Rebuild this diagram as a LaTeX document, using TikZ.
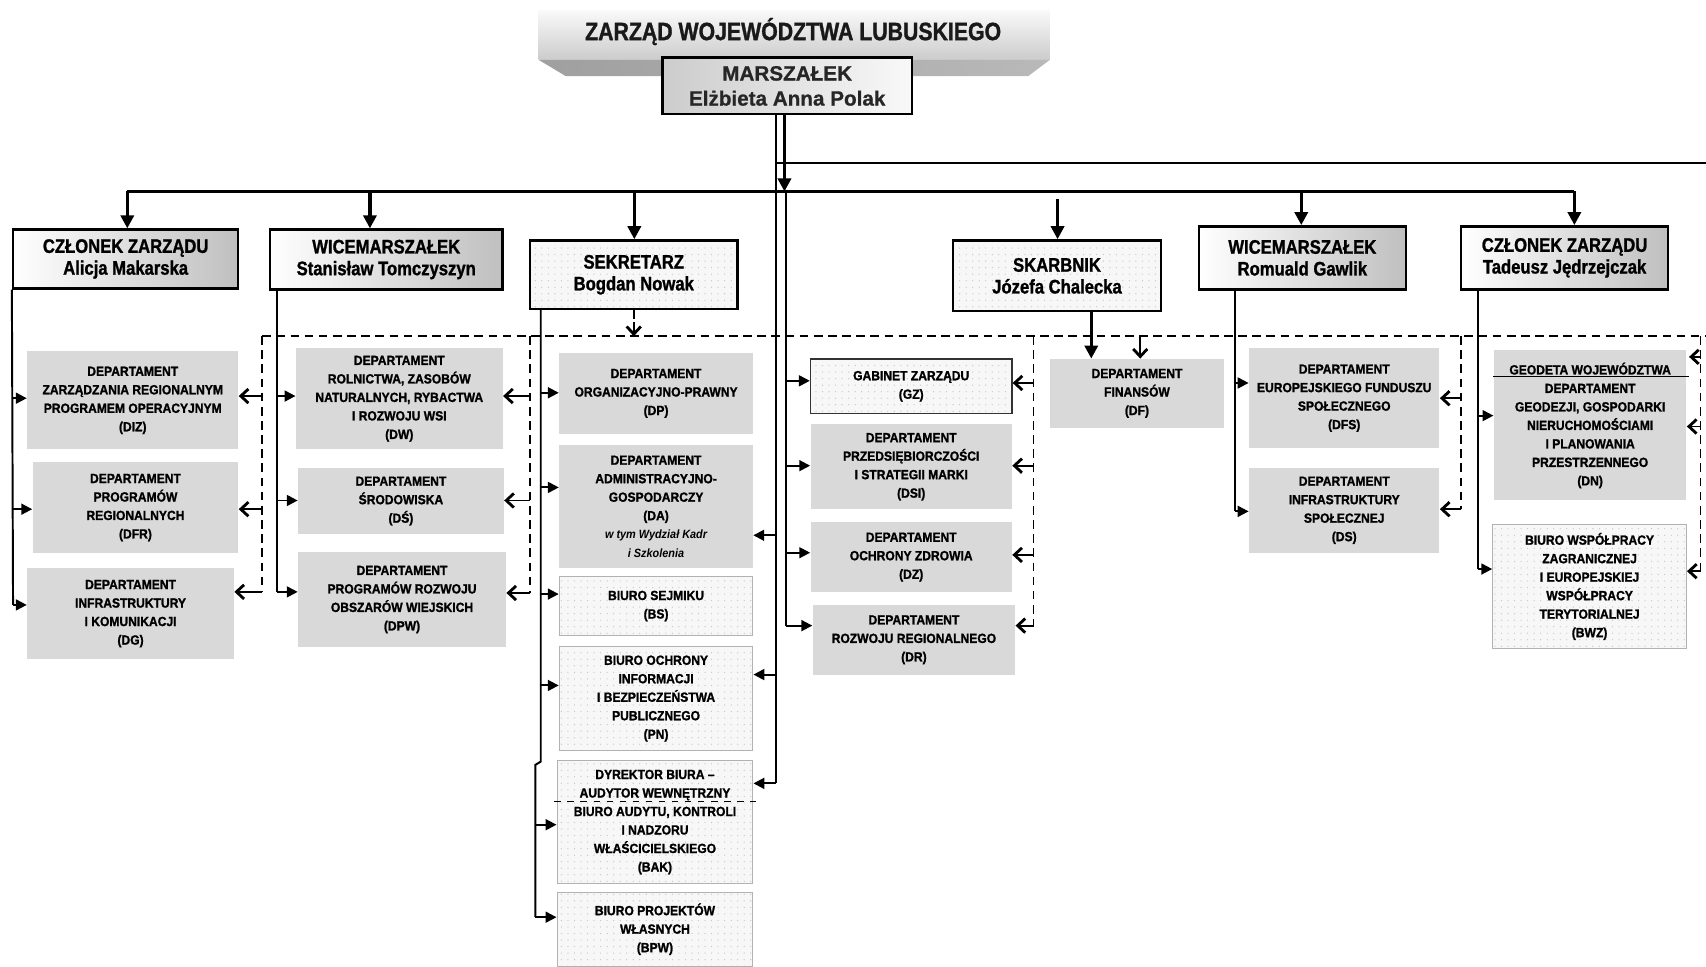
\documentclass[tikz,border=0pt]{standalone}
\usepackage{fontspec}
\setmainfont{Liberation Sans}
\newfontfamily\nf[FakeStretch=0.85, BoldFeatures={FakeBold=1.2}]{Liberation Sans}
\newfontfamily\df[FakeStretch=0.91, BoldFeatures={FakeBold=1.3}]{Liberation Sans}
\newfontfamily\mf[BoldFeatures={FakeBold=0.8}]{Liberation Sans}
\usetikzlibrary{arrows.meta,patterns.meta}
\definecolor{deptgray}{RGB}{217,217,217}
\tikzset{
 dtext/.style={align=center, inner sep=0pt, text=black, font=\df\bfseries\fontsize{6.1}{8.5}\selectfont},
 dept/.style={dtext, fill=deptgray},
 spk/.style={dtext, preaction={fill=gray!6}, pattern={Dots[distance=3pt,radius=0.3pt]}, pattern color=gray!45, draw=gray!60, line width=0.5pt},
 lead/.style={draw=black, line width=1.1pt, left color=white, right color=gray!50, align=center, inner sep=0pt, font=\nf\bfseries\fontsize{9}{10}\selectfont},
 leadsp/.style={draw=black, line width=1.1pt, preaction={fill=gray!6}, pattern={Dots[distance=3pt,radius=0.3pt]}, pattern color=gray!45, align=center, inner sep=0pt, font=\nf\bfseries\fontsize{9}{10}\selectfont},
 conn/.style={line width=0.9pt},
 arr/.style={line width=0.9pt, -{Triangle[length=5pt,width=5pt]}},
 arrM/.style={line width=1.5pt, -{Triangle[length=6pt,width=6pt]}},
 dline/.style={dash pattern=on 4pt off 2.5pt, line width=0.8pt},
 barb/.style={line width=0.9pt, -{Straight Barb[length=3.5pt,width=6.5pt,line width=1.3pt]}},
}
\begin{document}
\begin{tikzpicture}[x=0.5pt,y=-0.5pt]
\useasboundingbox (0,0) rectangle (1568,888);
% header band
\shade[top color=gray!5, bottom color=gray!40] (495,10) rectangle (965,55);
\shade[left color=gray!75, right color=gray!55] (495,55) -- (965,55) -- (945,70) -- (520,70) -- cycle;
\node[font=\nf\bfseries\fontsize{11.5}{13}\selectfont, text=black!90] (head) at (729,29) {ZARZĄD WOJEWÓDZTWA LUBUSKIEGO};
\node[draw=black, line width=1.1pt, left color=gray!40, right color=gray!5, align=center, inner sep=0pt,
      minimum width=114.5pt, minimum height=26pt, font=\mf\bfseries\fontsize{9.5}{11.5}\selectfont, text=black!85] (M) at (723.5,79) {MARSZAŁEK\\Elżbieta Anna Polak};

% leaders
\node[lead, minimum width=103.5pt, minimum height=27pt] (L1) at (115.5,238) {CZŁONEK ZARZĄDU\\Alicja Makarska};
\node[lead, minimum width=107pt, minimum height=27.5pt] (L2) at (355,238.5) {WICEMARSZAŁEK\\Stanisław Tomczyszyn};
\node[leadsp, minimum width=95.5pt, minimum height=31.5pt] (L3) at (582.5,252.5) {SEKRETARZ\\Bogdan Nowak};
\node[leadsp, minimum width=95.5pt, minimum height=32.5pt] (L4) at (971.5,253.5) {SKARBNIK\\Józefa Chalecka};
\node[lead, minimum width=95pt, minimum height=29pt] (L5) at (1197,237) {WICEMARSZAŁEK\\Romuald Gawlik};
\node[lead, minimum width=95pt, minimum height=29pt] (L6) at (1438,237) {CZŁONEK ZARZĄDU\\Tadeusz Jędrzejczak};

% departments
\node[dept, minimum width=97pt, minimum height=45pt] (DIZ) at (122,368) {DEPARTAMENT\\ZARZĄDZANIA REGIONALNYM\\PROGRAMEM OPERACYJNYM\\(DIZ)};
\node[dept, minimum width=94.5pt, minimum height=41.5pt] (DFR) at (124.5,466.5) {DEPARTAMENT\\PROGRAMÓW\\REGIONALNYCH\\(DFR)};
\node[dept, minimum width=95pt, minimum height=42pt] (DG) at (120,564) {DEPARTAMENT\\INFRASTRUKTURY\\I KOMUNIKACJI\\(DG)};
\node[dept, minimum width=95pt, minimum height=46.5pt] (DW) at (367,366.5) {DEPARTAMENT\\ROLNICTWA, ZASOBÓW\\NATURALNYCH, RYBACTWA\\I ROZWOJU WSI\\(DW)};
\node[dept, minimum width=94.5pt, minimum height=30.5pt] (DS1) at (368.5,460.5) {DEPARTAMENT\\ŚRODOWISKA\\(DŚ)};
\node[dept, minimum width=95.5pt, minimum height=44pt] (DPW) at (369.5,551) {DEPARTAMENT\\PROGRAMÓW ROZWOJU\\OBSZARÓW WIEJSKICH\\(DPW)};
\node[dept, minimum width=89pt, minimum height=37.5pt] (DP) at (603,361.5) {DEPARTAMENT\\ORGANIZACYJNO-PRAWNY\\(DP)};
\node[dept, minimum width=89pt, minimum height=56.5pt] (DA) at (603,465.5) {DEPARTAMENT\\ADMINISTRACYJNO-\\GOSPODARCZY\\(DA)\\{\itshape\fontsize{5.5}{8.5}\selectfont w tym Wydział Kadr}\\{\itshape\fontsize{5.5}{8.5}\selectfont i Szkolenia}};
\node[spk, minimum width=89pt, minimum height=27pt] (BS) at (603,557) {BIURO SEJMIKU\\(BS)};
\node[spk, minimum width=89pt, minimum height=48pt] (PN) at (603,642) {BIURO OCHRONY\\INFORMACJI\\I BEZPIECZEŃSTWA\\PUBLICZNEGO\\(PN)};
\node[spk, minimum width=90pt, minimum height=56.5pt] (BAK) at (602,755.5) {DYREKTOR BIURA –\\AUDYTOR WEWNĘTRZNY\\BIURO AUDYTU, KONTROLI\\I NADZORU\\WŁAŚCICIELSKIEGO\\(BAK)};
\node[spk, minimum width=90pt, minimum height=34pt] (BPW) at (602,854) {BIURO PROJEKTÓW\\WŁASNYCH\\(BPW)};
\node[spk, draw=black!80, line width=0.7pt, minimum width=92.5pt, minimum height=25pt] (GZ) at (837.5,355) {GABINET ZARZĄDU\\(GZ)};
\node[dept, minimum width=92.5pt, minimum height=39pt] (DSI) at (837.5,429) {DEPARTAMENT\\PRZEDSIĘBIORCZOŚCI\\I STRATEGII MARKI\\(DSI)};
\node[dept, minimum width=92.5pt, minimum height=32pt] (DZ) at (837.5,512) {DEPARTAMENT\\OCHRONY ZDROWIA\\(DZ)};
\node[dept, minimum width=93pt, minimum height=32pt] (DR) at (840,588) {DEPARTAMENT\\ROZWOJU REGIONALNEGO\\(DR)};
\node[dept, minimum width=80pt, minimum height=31.5pt] (DF) at (1045,361.5) {DEPARTAMENT\\FINANSÓW\\(DF)};
\node[dept, minimum width=87.5pt, minimum height=46pt] (DFS) at (1235.5,366) {DEPARTAMENT\\EUROPEJSKIEGO FUNDUSZU\\SPOŁECZNEGO\\(DFS)};
\node[dept, minimum width=87.5pt, minimum height=39pt] (DSP) at (1235.5,469) {DEPARTAMENT\\INFRASTRUKTURY\\SPOŁECZNEJ\\(DS)};
\node[dept, minimum width=88.5pt, minimum height=69pt] (DN) at (1461.5,391) {GEODETA WOJEWÓDZTWA\\DEPARTAMENT\\GEODEZJI, GOSPODARKI\\NIERUCHOMOŚCIAMI\\I PLANOWANIA\\PRZESTRZENNEGO\\(DN)};
\node[spk, minimum width=89pt, minimum height=57pt] (BWZ) at (1461,539) {BIURO WSPÓŁPRACY\\ZAGRANICZNEJ\\I EUROPEJSKIEJ\\WSPÓŁPRACY\\TERYTORIALNEJ\\(BWZ)};

% rules inside boxes
\draw[line width=0.8pt] (DN.west |- 0,346) -- ([xshift=1pt]DN.east |- 0,346);
\draw[dashed, line width=0.5pt] ([xshift=-1pt]BAK.west |- 0,737) -- ([xshift=1pt]BAK.east |- 0,737);

% Marszałek connectors
\coordinate (mbus) at (721,176);
\coordinate (busL) at (117,176);
\coordinate (busR) at (1447,176);
\draw[arrM] (M.south -| mbus) -- (mbus);
\draw[conn, line width=1.1pt] (busL) -- (busR);
\draw[arrM] (busL) -- (L1.north -| busL);
\draw[arrM] (340,176) -- (L2.north -| 340,0);
\draw[arrM] (583,176) -- (L3.north -| 583,0);
\draw[arrM] (972,183) -- (L4.north -| 972,0);
\draw[arrM] (1196,176) -- (L5.north -| 1196,0);
\draw[arrM] (busR) -- (L6.north -| busR);

\coordinate (mB) at (713,720);
\coordinate (mC) at (713,150);
\coordinate (mCR) at (1568,150);
\draw[conn, line width=1.1pt] (M.south -| mB) -- (mB);
\draw[conn] (mC) -- (mCR);
\draw[arr] (mB) -- (BAK.east |- mB);
\draw[arr] (713,492) -- (DA.east |- 0,492);
\draw[arr] (713,620) -- (PN.east |- 0,620);

\coordinate (mD) at (722,176);
\coordinate (mDb) at (722,575);
\draw[conn] (mD) -- (mDb);
\draw[arr] (mD |- 0,350) -- (GZ.west |- 0,350);
\draw[arr] (mD |- 0,428) -- (DSI.west |- 0,428);
\draw[arr] (mD |- 0,508) -- (DZ.west |- 0,508);
\draw[arr] (mDb) -- (DR.west |- mDb);

% leaders' solid lines
\coordinate (a1) at (12,556);
\draw[conn] (L1.south west) -- (a1);
\draw[arr] (a1 |- 0,366) -- (DIZ.west |- 0,366);
\draw[arr] (a1 |- 0,468) -- (DFR.west |- 0,468);
\draw[arr] (a1) -- (DG.west |- a1);

\coordinate (a2t) at (255,266);
\coordinate (a2) at (255,544);
\draw[conn] (a2t) -- (a2);
\draw[arr] (a2 |- 0,364) -- (DW.west |- 0,364);
\draw[arr] (a2 |- 0,460) -- (DS1.west |- 0,460);
\draw[arr] (a2) -- (DPW.west |- a2);

\coordinate (a3t) at (497,284);
\coordinate (a3j) at (497,700);
\coordinate (a3k) at (492,703);
\coordinate (a3) at (492,843);
\draw[conn] (a3t) -- (a3j) -- (a3k) -- (a3);
\draw[arr] (a3t |- 0,361) -- (DP.west |- 0,361);
\draw[arr] (a3t |- 0,448) -- (DA.west |- 0,448);
\draw[arr] (a3t |- 0,546) -- (BS.west |- 0,546);
\draw[arr] (a3t |- 0,630) -- (PN.west |- 0,630);
\draw[arr] (a3 |- 0,758) -- (BAK.west |- 0,758);
\draw[arr] (a3) -- (BPW.west |- a3);

\draw[arrM] (L4.south -| 1003,0) -- (DF.north -| 1003,0);

\coordinate (a5t) at (1135,266);
\coordinate (a5) at (1135,470);
\draw[conn] (a5t) -- (a5);
\draw[arr] (a5 |- 0,352) -- (DFS.west |- 0,352);
\draw[arr] (a5) -- (DSP.west |- a5);

\coordinate (a6t) at (1358,266);
\coordinate (a6) at (1358,523);
\draw[conn] (a6t) -- (a6);
\draw[arr] (a6 |- 0,382) -- (DN.west |- 0,382);
\draw[arr] (a6) -- (BWZ.west |- a6);

% dashed coordination lines
\coordinate (dL) at (241,309);
\coordinate (dR) at (1568,309);
\draw[dline] (dL) -- (dR);

\coordinate (d1) at (241,544);
\draw[dline] (dL) -- (d1);
\draw[barb] (d1 |- 0,364) -- (DIZ.east |- 0,364);
\draw[barb] (d1 |- 0,468) -- (DFR.east |- 0,468);
\draw[barb] (d1) -- (DG.east |- d1);

\coordinate (d2t) at (487,309);
\coordinate (d2) at (487,545);
\draw[dline] (d2t) -- (d2);
\draw[barb] (d2 |- 0,364) -- (DW.east |- 0,364);
\draw[barb] (d2 |- 0,460) -- (DS1.east |- 0,460);
\draw[barb] (d2) -- (DPW.east |- d2);

\draw[dline] (L3.south) -- (L3.south |- dL);
\draw[barb] (L3.south |- 0,296) -- (L3.south |- dL);

\coordinate (d3t) at (950,309);
\coordinate (d3) at (950,575);
\draw[dline] (d3t) -- (d3);
\draw[barb] (d3 |- 0,352) -- (GZ.east |- 0,352);
\draw[barb] (d3 |- 0,428) -- (DSI.east |- 0,428);
\draw[barb] (d3 |- 0,510) -- (DZ.east |- 0,510);
\draw[barb] (d3) -- (DR.east |- d3);

\coordinate (d4) at (1048,309);
\draw[barb] (d4) -- (DF.north -| d4);

\coordinate (d5t) at (1343,309);
\coordinate (d5) at (1343,468);
\draw[dline] (d5t) -- (d5);
\draw[barb] (d5 |- 0,366) -- (DFS.east |- 0,366);
\draw[barb] (d5) -- (DSP.east |- d5);

\coordinate (d6t) at (1563,309);
\coordinate (d6) at (1563,525);
\draw[dline] (d6t) -- (d6);
\draw[barb] (d6 |- 0,328) -- ([xshift=1pt]DN.east |- 0,328);
\draw[barb] (d6 |- 0,392) -- (DN.east |- 0,392);
\draw[barb] (d6) -- (BWZ.east |- d6);
\end{tikzpicture}
\end{document}
